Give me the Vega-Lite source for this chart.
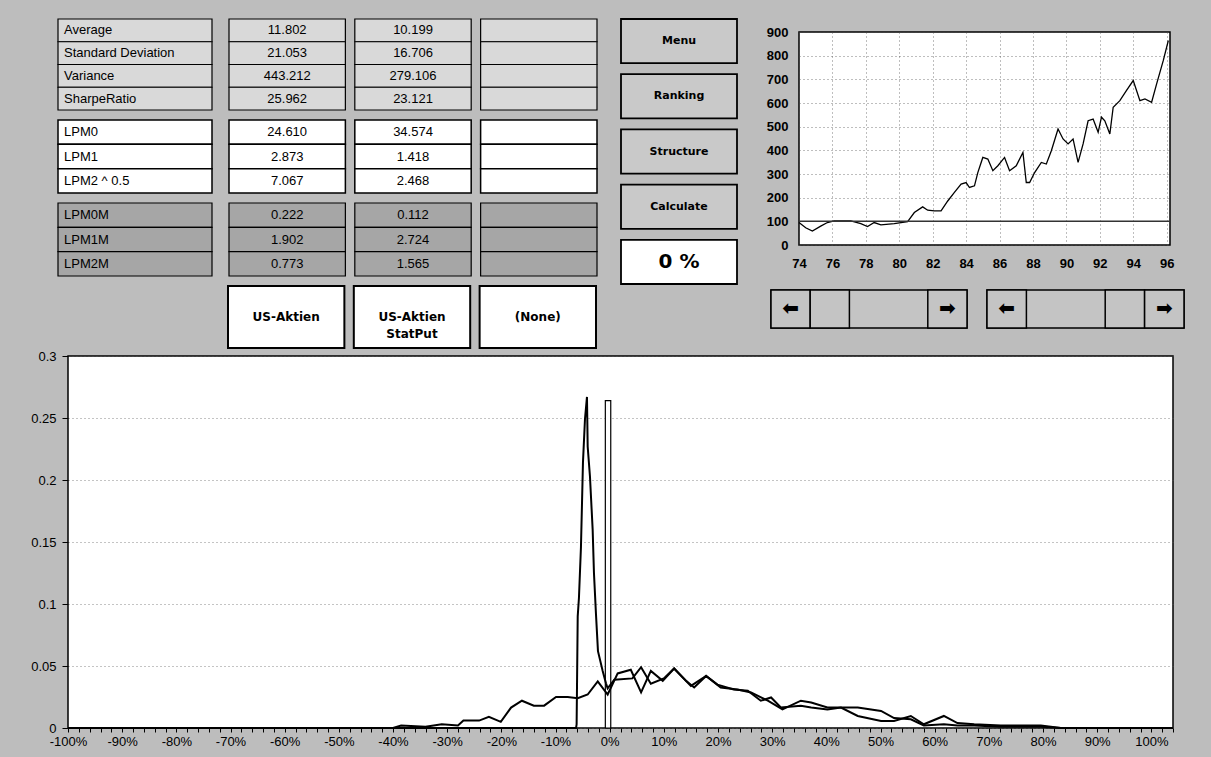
{
  "$schema": "https://vega.github.io/schema/vega-lite/v6.json",
  "background": "#bdbdbd",
  "padding": {"left": 29, "top": 18, "right": 28, "bottom": 9},
  "config": {"font": "Liberation Sans", "view": {"stroke": null}},
  "datasets": {
    "stats": [
      {"group": "g1", "metric": "Average", "p1": "11.802", "p2": "10.199", "p3": ""},
      {"group": "g1", "metric": "Standard Deviation", "p1": "21.053", "p2": "16.706", "p3": ""},
      {"group": "g1", "metric": "Variance", "p1": "443.212", "p2": "279.106", "p3": ""},
      {"group": "g1", "metric": "SharpeRatio", "p1": "25.962", "p2": "23.121", "p3": ""},
      {"group": "g2", "metric": "LPM0", "p1": "24.610", "p2": "34.574", "p3": ""},
      {"group": "g2", "metric": "LPM1", "p1": "2.873", "p2": "1.418", "p3": ""},
      {"group": "g2", "metric": "LPM2 ^ 0.5", "p1": "7.067", "p2": "2.468", "p3": ""},
      {"group": "g3", "metric": "LPM0M", "p1": "0.222", "p2": "0.112", "p3": ""},
      {"group": "g3", "metric": "LPM1M", "p1": "1.902", "p2": "2.724", "p3": ""},
      {"group": "g3", "metric": "LPM2M", "p1": "0.773", "p2": "1.565", "p3": ""}
    ],
    "buttons": [
      {"slot": "p1", "label": "US-Aktien"},
      {"slot": "p2", "label": "US-Aktien\nStatPut"},
      {"slot": "p3", "label": "(None)"}
    ],
    "menu": [
      {"item": "Menu", "kind": "button"},
      {"item": "Ranking", "kind": "button"},
      {"item": "Structure", "kind": "button"},
      {"item": "Calculate", "kind": "button"},
      {"item": "0 %", "kind": "display"}
    ],
    "scroll": [
      {"bar": "L", "slot": "s1", "glyph": "⬅"},
      {"bar": "L", "slot": "s2", "glyph": ""},
      {"bar": "L", "slot": "s5", "glyph": "➡"},
      {"bar": "R", "slot": "s1", "glyph": "⬅"},
      {"bar": "R", "slot": "s4", "glyph": ""},
      {"bar": "R", "slot": "s5", "glyph": "➡"}
    ],
    "history": [
      {"year": 74.0, "value": 95}, {"year": 74.4, "value": 73}, {"year": 74.8, "value": 59},
      {"year": 75.3, "value": 80}, {"year": 75.7, "value": 95}, {"year": 76.1, "value": 102},
      {"year": 77.1, "value": 102}, {"year": 77.7, "value": 90}, {"year": 78.1, "value": 78},
      {"year": 78.5, "value": 95}, {"year": 78.9, "value": 85}, {"year": 79.7, "value": 90},
      {"year": 80.5, "value": 99}, {"year": 80.9, "value": 137}, {"year": 81.4, "value": 161},
      {"year": 81.7, "value": 147}, {"year": 82.1, "value": 144}, {"year": 82.5, "value": 144},
      {"year": 82.9, "value": 186}, {"year": 83.3, "value": 222}, {"year": 83.7, "value": 257},
      {"year": 84.0, "value": 264}, {"year": 84.2, "value": 243}, {"year": 84.5, "value": 250},
      {"year": 84.7, "value": 306}, {"year": 85.0, "value": 370}, {"year": 85.3, "value": 363},
      {"year": 85.6, "value": 314}, {"year": 85.9, "value": 335}, {"year": 86.3, "value": 370},
      {"year": 86.6, "value": 314}, {"year": 87.0, "value": 335}, {"year": 87.4, "value": 391},
      {"year": 87.6, "value": 264}, {"year": 87.8, "value": 264}, {"year": 88.1, "value": 306},
      {"year": 88.5, "value": 349}, {"year": 88.8, "value": 342}, {"year": 89.1, "value": 398},
      {"year": 89.5, "value": 490}, {"year": 89.8, "value": 448}, {"year": 90.1, "value": 427},
      {"year": 90.4, "value": 448}, {"year": 90.7, "value": 349}, {"year": 91.0, "value": 427},
      {"year": 91.3, "value": 525}, {"year": 91.6, "value": 532}, {"year": 91.9, "value": 476},
      {"year": 92.1, "value": 540}, {"year": 92.3, "value": 525}, {"year": 92.6, "value": 469},
      {"year": 92.8, "value": 582}, {"year": 93.2, "value": 610}, {"year": 93.6, "value": 653},
      {"year": 94.0, "value": 695}, {"year": 94.4, "value": 610}, {"year": 94.7, "value": 617},
      {"year": 95.1, "value": 603}, {"year": 95.4, "value": 681}, {"year": 95.8, "value": 780},
      {"year": 96.1, "value": 864}
    ],
    "baseline": [{"level": 100}],
    "marker": [{"lo": -0.8, "hi": 0.2, "p": 0.264, "base": 0}],
    "dist": [
      {"series": "US-Aktien", "ret": -40, "p": 0},
      {"series": "US-Aktien", "ret": -38.5, "p": 0.002},
      {"series": "US-Aktien", "ret": -34, "p": 0.001},
      {"series": "US-Aktien", "ret": -31, "p": 0.003},
      {"series": "US-Aktien", "ret": -28, "p": 0.002},
      {"series": "US-Aktien", "ret": -27, "p": 0.006},
      {"series": "US-Aktien", "ret": -24.1, "p": 0.006},
      {"series": "US-Aktien", "ret": -22.3, "p": 0.009},
      {"series": "US-Aktien", "ret": -20.1, "p": 0.005},
      {"series": "US-Aktien", "ret": -18.2, "p": 0.0165},
      {"series": "US-Aktien", "ret": -16.2, "p": 0.022},
      {"series": "US-Aktien", "ret": -14, "p": 0.018},
      {"series": "US-Aktien", "ret": -12.1, "p": 0.018},
      {"series": "US-Aktien", "ret": -9.9, "p": 0.025},
      {"series": "US-Aktien", "ret": -7.75, "p": 0.025},
      {"series": "US-Aktien", "ret": -5.9, "p": 0.024},
      {"series": "US-Aktien", "ret": -4.06, "p": 0.027},
      {"series": "US-Aktien", "ret": -2.2, "p": 0.0376},
      {"series": "US-Aktien", "ret": -0.37, "p": 0.027},
      {"series": "US-Aktien", "ret": 1.48, "p": 0.044},
      {"series": "US-Aktien", "ret": 3.9, "p": 0.047},
      {"series": "US-Aktien", "ret": 5.8, "p": 0.0287},
      {"series": "US-Aktien", "ret": 7.6, "p": 0.046},
      {"series": "US-Aktien", "ret": 9.8, "p": 0.038},
      {"series": "US-Aktien", "ret": 11.9, "p": 0.048},
      {"series": "US-Aktien", "ret": 14.1, "p": 0.038},
      {"series": "US-Aktien", "ret": 15.6, "p": 0.0327},
      {"series": "US-Aktien", "ret": 17.8, "p": 0.042},
      {"series": "US-Aktien", "ret": 19.9, "p": 0.035},
      {"series": "US-Aktien", "ret": 22.9, "p": 0.031},
      {"series": "US-Aktien", "ret": 25.5, "p": 0.030},
      {"series": "US-Aktien", "ret": 27.9, "p": 0.022},
      {"series": "US-Aktien", "ret": 29.8, "p": 0.0246},
      {"series": "US-Aktien", "ret": 31.6, "p": 0.0165},
      {"series": "US-Aktien", "ret": 35.3, "p": 0.018},
      {"series": "US-Aktien", "ret": 37.2, "p": 0.0165},
      {"series": "US-Aktien", "ret": 40.2, "p": 0.015},
      {"series": "US-Aktien", "ret": 42.7, "p": 0.0165},
      {"series": "US-Aktien", "ret": 45.8, "p": 0.0097},
      {"series": "US-Aktien", "ret": 50.1, "p": 0.0057},
      {"series": "US-Aktien", "ret": 52.5, "p": 0.0057},
      {"series": "US-Aktien", "ret": 55.6, "p": 0.0097},
      {"series": "US-Aktien", "ret": 58, "p": 0.003},
      {"series": "US-Aktien", "ret": 61.7, "p": 0.0097},
      {"series": "US-Aktien", "ret": 64.2, "p": 0.004},
      {"series": "US-Aktien", "ret": 67.3, "p": 0.003},
      {"series": "US-Aktien", "ret": 72.2, "p": 0.002},
      {"series": "US-Aktien", "ret": 79.6, "p": 0.002},
      {"series": "US-Aktien", "ret": 83.3, "p": 0},
      {"series": "US-Aktien", "ret": 104, "p": 0},
      {"series": "US-Aktien StatPut", "ret": -100, "p": 0},
      {"series": "US-Aktien StatPut", "ret": -6.2, "p": 0},
      {"series": "US-Aktien StatPut", "ret": -6.1, "p": 0.003},
      {"series": "US-Aktien StatPut", "ret": -5.9, "p": 0.09},
      {"series": "US-Aktien StatPut", "ret": -5.67, "p": 0.105},
      {"series": "US-Aktien StatPut", "ret": -5.3, "p": 0.146},
      {"series": "US-Aktien StatPut", "ret": -4.93, "p": 0.214},
      {"series": "US-Aktien StatPut", "ret": -4.56, "p": 0.249},
      {"series": "US-Aktien StatPut", "ret": -4.19, "p": 0.267},
      {"series": "US-Aktien StatPut", "ret": -4.06, "p": 0.227},
      {"series": "US-Aktien StatPut", "ret": -3.64, "p": 0.203},
      {"series": "US-Aktien StatPut", "ret": -3.14, "p": 0.160},
      {"series": "US-Aktien StatPut", "ret": -2.9, "p": 0.125},
      {"series": "US-Aktien StatPut", "ret": -2.53, "p": 0.092},
      {"series": "US-Aktien StatPut", "ret": -2.16, "p": 0.062},
      {"series": "US-Aktien StatPut", "ret": -1.29, "p": 0.046},
      {"series": "US-Aktien StatPut", "ret": -0.68, "p": 0.036},
      {"series": "US-Aktien StatPut", "ret": -0.37, "p": 0.032},
      {"series": "US-Aktien StatPut", "ret": 0.85, "p": 0.039},
      {"series": "US-Aktien StatPut", "ret": 4.2, "p": 0.040},
      {"series": "US-Aktien StatPut", "ret": 5.8, "p": 0.049},
      {"series": "US-Aktien StatPut", "ret": 7.6, "p": 0.0357},
      {"series": "US-Aktien StatPut", "ret": 10, "p": 0.040},
      {"series": "US-Aktien StatPut", "ret": 11.9, "p": 0.048},
      {"series": "US-Aktien StatPut", "ret": 15, "p": 0.034},
      {"series": "US-Aktien StatPut", "ret": 17.8, "p": 0.042},
      {"series": "US-Aktien StatPut", "ret": 20.5, "p": 0.0327},
      {"series": "US-Aktien StatPut", "ret": 23.6, "p": 0.031},
      {"series": "US-Aktien StatPut", "ret": 26.1, "p": 0.0287},
      {"series": "US-Aktien StatPut", "ret": 29.2, "p": 0.022},
      {"series": "US-Aktien StatPut", "ret": 31.9, "p": 0.015},
      {"series": "US-Aktien StatPut", "ret": 35.3, "p": 0.022},
      {"series": "US-Aktien StatPut", "ret": 37.2, "p": 0.0205},
      {"series": "US-Aktien StatPut", "ret": 40.2, "p": 0.0165},
      {"series": "US-Aktien StatPut", "ret": 42.7, "p": 0.0165},
      {"series": "US-Aktien StatPut", "ret": 45.8, "p": 0.0165},
      {"series": "US-Aktien StatPut", "ret": 50.1, "p": 0.0138},
      {"series": "US-Aktien StatPut", "ret": 52.5, "p": 0.008},
      {"series": "US-Aktien StatPut", "ret": 55.6, "p": 0.007},
      {"series": "US-Aktien StatPut", "ret": 58, "p": 0.002},
      {"series": "US-Aktien StatPut", "ret": 61.7, "p": 0.003},
      {"series": "US-Aktien StatPut", "ret": 64.2, "p": 0.002},
      {"series": "US-Aktien StatPut", "ret": 67.3, "p": 0.002},
      {"series": "US-Aktien StatPut", "ret": 72.2, "p": 0.001},
      {"series": "US-Aktien StatPut", "ret": 79.6, "p": 0.001},
      {"series": "US-Aktien StatPut", "ret": 83.3, "p": 0},
      {"series": "US-Aktien StatPut", "ret": 104, "p": 0}
    ]
  },
  "spacing": 0,
  "vconcat": [
    {
      "spacing": 22,
      "hconcat": [
        {
          "spacing": 8,
          "vconcat": [
            {
              "spacing": 15,
              "hconcat": [
                {
                  "width": 154, "height": 91,
                  "data": {"name": "stats"},
                  "transform": [{"filter": "datum.group == 'g1'"}],
                  "encoding": {
                    "x": {"datum": "cell", "type": "nominal", "axis": null, "scale": {"paddingInner": 0, "paddingOuter": 0}},
                    "y": {"field": "metric", "type": "nominal", "sort": null, "axis": null, "scale": {"paddingInner": 0, "paddingOuter": 0}}
                  },
                  "layer": [
                    {"mark": {"type": "rect", "fill": "#d9d9d9", "stroke": "black", "strokeWidth": 1.2}},
                    {"mark": {"type": "text", "align": "left", "dx": 6, "fontSize": 13, "color": "black"},
                     "encoding": {"x": {"datum": "cell", "type": "nominal", "bandPosition": 0}, "text": {"field": "metric"}}}
                  ]
                },
                {
                  "width": 368, "height": 91,
                  "data": {"name": "stats"},
                  "transform": [{"filter": "datum.group == 'g1'"}, {"fold": ["p1", "p2", "p3"], "as": ["portfolio", "val"]}],
                  "encoding": {
                    "x": {"field": "portfolio", "type": "nominal", "axis": null, "scale": {"domain": ["p1", "p2", "p3"], "paddingInner": 0.075, "paddingOuter": 0}},
                    "y": {"field": "metric", "type": "nominal", "sort": null, "axis": null, "scale": {"paddingInner": 0, "paddingOuter": 0}}
                  },
                  "layer": [
                    {"mark": {"type": "rect", "fill": "#d9d9d9", "stroke": "black", "strokeWidth": 1.2}},
                    {"mark": {"type": "text", "fontSize": 13, "color": "black"}, "encoding": {"text": {"field": "val"}}}
                  ]
                }
              ]
            },
            {
              "spacing": 15,
              "hconcat": [
                {
                  "width": 154, "height": 73,
                  "data": {"name": "stats"},
                  "transform": [{"filter": "datum.group == 'g2'"}],
                  "encoding": {
                    "x": {"datum": "cell", "type": "nominal", "axis": null, "scale": {"paddingInner": 0, "paddingOuter": 0}},
                    "y": {"field": "metric", "type": "nominal", "sort": null, "axis": null, "scale": {"paddingInner": 0, "paddingOuter": 0}}
                  },
                  "layer": [
                    {"mark": {"type": "rect", "fill": "#ffffff", "stroke": "black", "strokeWidth": 1.5}},
                    {"mark": {"type": "text", "align": "left", "dx": 6, "fontSize": 13, "color": "black"},
                     "encoding": {"x": {"datum": "cell", "type": "nominal", "bandPosition": 0}, "text": {"field": "metric"}}}
                  ]
                },
                {
                  "width": 368, "height": 73,
                  "data": {"name": "stats"},
                  "transform": [{"filter": "datum.group == 'g2'"}, {"fold": ["p1", "p2", "p3"], "as": ["portfolio", "val"]}],
                  "encoding": {
                    "x": {"field": "portfolio", "type": "nominal", "axis": null, "scale": {"domain": ["p1", "p2", "p3"], "paddingInner": 0.075, "paddingOuter": 0}},
                    "y": {"field": "metric", "type": "nominal", "sort": null, "axis": null, "scale": {"paddingInner": 0, "paddingOuter": 0}}
                  },
                  "layer": [
                    {"mark": {"type": "rect", "fill": "#ffffff", "stroke": "black", "strokeWidth": 1.5}},
                    {"mark": {"type": "text", "fontSize": 13, "color": "black"}, "encoding": {"text": {"field": "val"}}}
                  ]
                }
              ]
            },
            {
              "spacing": 15,
              "hconcat": [
                {
                  "width": 154, "height": 73,
                  "data": {"name": "stats"},
                  "transform": [{"filter": "datum.group == 'g3'"}],
                  "encoding": {
                    "x": {"datum": "cell", "type": "nominal", "axis": null, "scale": {"paddingInner": 0, "paddingOuter": 0}},
                    "y": {"field": "metric", "type": "nominal", "sort": null, "axis": null, "scale": {"paddingInner": 0, "paddingOuter": 0}}
                  },
                  "layer": [
                    {"mark": {"type": "rect", "fill": "#a6a6a6", "stroke": "black", "strokeWidth": 1.2}},
                    {"mark": {"type": "text", "align": "left", "dx": 6, "fontSize": 13, "color": "black"},
                     "encoding": {"x": {"datum": "cell", "type": "nominal", "bandPosition": 0}, "text": {"field": "metric"}}}
                  ]
                },
                {
                  "width": 368, "height": 73,
                  "data": {"name": "stats"},
                  "transform": [{"filter": "datum.group == 'g3'"}, {"fold": ["p1", "p2", "p3"], "as": ["portfolio", "val"]}],
                  "encoding": {
                    "x": {"field": "portfolio", "type": "nominal", "axis": null, "scale": {"domain": ["p1", "p2", "p3"], "paddingInner": 0.075, "paddingOuter": 0}},
                    "y": {"field": "metric", "type": "nominal", "sort": null, "axis": null, "scale": {"paddingInner": 0, "paddingOuter": 0}}
                  },
                  "layer": [
                    {"mark": {"type": "rect", "fill": "#a6a6a6", "stroke": "black", "strokeWidth": 1.2}},
                    {"mark": {"type": "text", "fontSize": 13, "color": "black"}, "encoding": {"text": {"field": "val"}}}
                  ]
                }
              ]
            },
            {
              "spacing": 15,
              "hconcat": [
                {"width": 154, "height": 62, "data": {"values": [{}]}, "mark": {"type": "rect", "opacity": 0}, "encoding": {}},
                {
                  "width": 368, "height": 62,
                  "data": {"name": "buttons"},
                  "encoding": {
                    "x": {"field": "slot", "type": "nominal", "axis": null, "scale": {"domain": ["p1", "p2", "p3"], "paddingInner": 0.075, "paddingOuter": 0}}
                  },
                  "layer": [
                    {"mark": {"type": "rect", "fill": "#ffffff", "stroke": "black", "strokeWidth": 2}},
                    {"mark": {"type": "text", "font": "DejaVu Sans", "fontSize": 12, "fontWeight": "bold", "lineBreak": "\n", "lineHeight": 17, "color": "black"}, "encoding": {"text": {"field": "label"}}}
                  ]
                }
              ]
            }
          ]
        },
        {
          "spacing": 27,
          "hconcat": [
            {
              "width": 116, "height": 265,
              "data": {"name": "menu"},
              "encoding": {
                "y": {"field": "item", "type": "nominal", "sort": null, "axis": null, "scale": {"paddingInner": 0.2, "paddingOuter": 0}}
              },
              "layer": [
                {"mark": {"type": "rect", "stroke": "black", "strokeWidth": 1.8},
                 "encoding": {"fill": {"field": "kind", "type": "nominal", "scale": {"domain": ["button", "display"], "range": ["#c9c9c9", "#ffffff"]}, "legend": null}}},
                {"transform": [{"filter": "datum.kind == 'button'"}],
                 "mark": {"type": "text", "font": "DejaVu Sans", "fontSize": 11, "fontWeight": "bold", "color": "black"},
                 "encoding": {"text": {"field": "item"}}},
                {"transform": [{"filter": "datum.kind == 'display'"}],
                 "mark": {"type": "text", "font": "DejaVu Sans", "fontSize": 20, "fontWeight": "bold", "color": "black"},
                 "encoding": {"text": {"field": "item"}}}
              ]
            },
            {
              "spacing": 17,
              "vconcat": [
                {
                  "bounds": "flush",
                  "spacing": 27,
                  "hconcat": [
                    {"width": 1, "height": 1, "data": {"values": [{}]}, "mark": {"type": "rect", "opacity": 0}, "encoding": {}},
                    {
                      "bounds": "flush",
                      "spacing": 12,
                      "vconcat": [
                        {"width": 1, "height": 1, "data": {"values": [{}]}, "mark": {"type": "rect", "opacity": 0}, "encoding": {}},
                        {
                          "width": 371, "height": 213,
                          "view": {"stroke": "black", "strokeWidth": 1.5, "fill": "white"},
                          "layer": [
                            {
                              "data": {"name": "history"},
                              "mark": {"type": "line", "color": "black", "strokeWidth": 1.3},
                              "encoding": {
                                "x": {"field": "year", "type": "quantitative", "scale": {"domain": [74, 96.2], "nice": false, "zero": false},
                                      "axis": {"title": null, "values": [74, 76, 78, 80, 82, 84, 86, 88, 90, 92, 94, 96], "format": "d", "labelFontSize": 13, "labelFontWeight": "bold", "labelColor": "black", "labelOverlap": false, "labelFlush": false, "tickSize": 0, "labelPadding": 12, "domain": false, "grid": true, "gridDash": [1, 3], "gridColor": "#444444", "gridOpacity": 0.7}},
                                "y": {"field": "value", "type": "quantitative", "scale": {"domain": [0, 900], "nice": false},
                                      "axis": {"title": null, "values": [0, 100, 200, 300, 400, 500, 600, 700, 800, 900], "format": "d", "labelFontSize": 13, "labelFontWeight": "bold", "labelColor": "black", "labelOverlap": false, "labelFlush": false, "tickSize": 0, "labelPadding": 11, "domain": false, "grid": true, "gridDash": [1, 3], "gridColor": "#444444", "gridOpacity": 0.7}}
                              }
                            },
                            {
                              "data": {"name": "baseline"},
                              "mark": {"type": "rule", "color": "#333333", "strokeWidth": 1.5},
                              "encoding": {"y": {"field": "level", "type": "quantitative",
                                "axis": {"title": null, "values": [0, 100, 200, 300, 400, 500, 600, 700, 800, 900], "format": "d", "labelFontSize": 13, "labelFontWeight": "bold", "labelColor": "black", "labelOverlap": false, "labelFlush": false, "tickSize": 0, "labelPadding": 11, "domain": false, "grid": true, "gridDash": [1, 3], "gridColor": "#444444", "gridOpacity": 0.7}}}
                            }
                          ]
                        }
                      ]
                    }
                  ]
                },
                {
                  "spacing": 16,
                  "hconcat": [
                    {
                      "width": 196, "height": 38,
                      "view": {"fill": "#c4c4c4", "stroke": "black", "strokeWidth": 1.5},
                      "data": {"name": "scroll"},
                      "transform": [{"filter": "datum.bar == 'L'"}],
                      "encoding": {"x": {"field": "slot", "type": "nominal", "axis": null, "scale": {"domain": ["s1", "s2", "s3", "s4", "s5"], "paddingInner": 0, "paddingOuter": 0}}},
                      "layer": [
                        {"mark": {"type": "rect", "fill": "#c4c4c4", "stroke": "black", "strokeWidth": 1.5}},
                        {"mark": {"type": "text", "font": "DejaVu Sans", "fontSize": 20, "fontWeight": "bold", "color": "black"}, "encoding": {"text": {"field": "glyph"}}}
                      ]
                    },
                    {
                      "width": 197, "height": 38,
                      "view": {"fill": "#c4c4c4", "stroke": "black", "strokeWidth": 1.5},
                      "data": {"name": "scroll"},
                      "transform": [{"filter": "datum.bar == 'R'"}],
                      "encoding": {"x": {"field": "slot", "type": "nominal", "axis": null, "scale": {"domain": ["s1", "s2", "s3", "s4", "s5"], "paddingInner": 0, "paddingOuter": 0}}},
                      "layer": [
                        {"mark": {"type": "rect", "fill": "#c4c4c4", "stroke": "black", "strokeWidth": 1.5}},
                        {"mark": {"type": "text", "font": "DejaVu Sans", "fontSize": 20, "fontWeight": "bold", "color": "black"}, "encoding": {"text": {"field": "glyph"}}}
                      ]
                    }
                  ]
                }
              ]
            }
          ]
        }
      ]
    },
    {
      "bounds": "flush",
      "spacing": 9,
      "hconcat": [
        {"width": 1, "height": 1, "data": {"values": [{}]}, "mark": {"type": "rect", "opacity": 0}, "encoding": {}},
        {
          "width": 1105, "height": 372,
          "view": {"stroke": "black", "strokeWidth": 1.5, "fill": "white"},
          "layer": [
            {
              "data": {"name": "marker"},
              "mark": {"type": "rect", "fill": "white", "stroke": "black", "strokeWidth": 1.2},
              "encoding": {
                "x": {"field": "lo", "type": "quantitative", "scale": {"domain": [-100, 104], "nice": false, "zero": false},
                      "axis": {"title": null, "tickCount": 102, "labelExpr": "datum.value % 10 === 0 ? datum.value + '%' : ''", "labelOverlap": false, "labelFlush": false, "labelFontSize": 13, "labelColor": "black", "tickSize": 4, "tickColor": "black", "labelPadding": 3, "domain": false, "grid": false}},
                "x2": {"field": "hi"},
                "y": {"field": "p", "type": "quantitative", "scale": {"domain": [0, 0.3], "nice": false},
                      "axis": {"title": null, "values": [0, 0.05, 0.1, 0.15, 0.2, 0.25, 0.3], "format": "~g", "labelFontSize": 13, "labelColor": "black", "labelOverlap": false, "labelFlush": false, "tickSize": 6, "tickColor": "black", "labelPadding": 6, "domain": false, "grid": true, "gridDash": [1, 3], "gridColor": "#555555", "gridOpacity": 0.7}},
                "y2": {"field": "base"}
              }
            },
            {
              "data": {"name": "dist"},
              "mark": {"type": "line", "color": "black", "strokeWidth": 2},
              "encoding": {
                "x": {"field": "ret", "type": "quantitative"},
                "y": {"field": "p", "type": "quantitative"},
                "detail": {"field": "series", "type": "nominal"}
              }
            }
          ]
        }
      ]
    }
  ]
}
